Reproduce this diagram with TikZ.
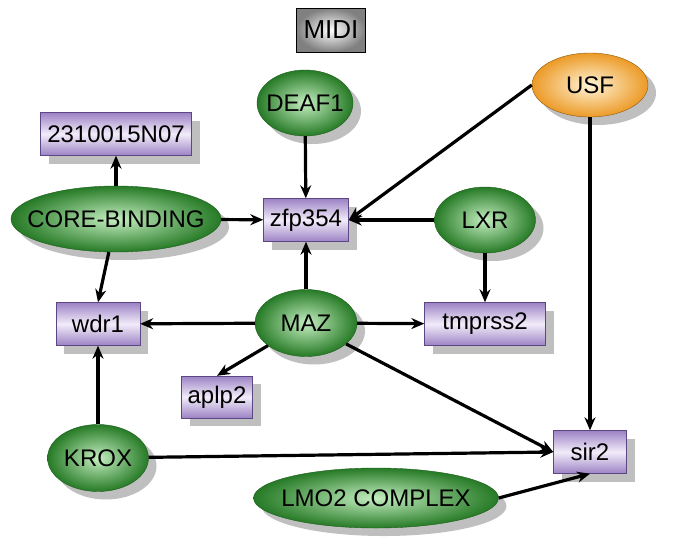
\documentclass[tikz,border=0pt]{standalone}
\usepackage{fontspec}
\setsansfont{Liberation Sans}
\usepackage{xcolor}
\definecolor{geneedge}{HTML}{5B4784}
\definecolor{genedark}{HTML}{9C82C4}
\definecolor{genelight}{HTML}{F2ECFA}
\definecolor{grnedge}{HTML}{1B5E1B}
\definecolor{grnout}{HTML}{267A26}
\definecolor{grnin}{HTML}{C4EEC0}
\definecolor{orgedge}{HTML}{8A5A10}
\definecolor{orgout}{HTML}{EC9A26}
\definecolor{orgin}{HTML}{FFF4D8}
\usetikzlibrary{arrows.meta, shapes.geometric, shadows}

\begin{document}
\begin{tikzpicture}[x=1pt, y=-1pt,
  shade/.style={drop shadow={shadow xshift=8pt, shadow yshift=-8pt,
    fill=black!25, opacity=1}},
  gene/.style={draw=geneedge, top color=genedark, bottom color=genedark,
    middle color=genelight, minimum height=43pt, inner sep=0pt, shade,
    font=\sffamily\fontsize{24}{24}\selectfont},
  factor/.style={ellipse, draw=#1edge, inner color=#1in, outer color=#1out,
    inner sep=0pt, shade, font=\sffamily\fontsize{24}{24}\selectfont,
    execute at begin node={\hbox to 0pt\bgroup\hss},
    execute at end node={\hss\egroup}},
  factor/.default=grn,
  link/.style={-{Stealth[length=13pt, width=11pt]}, line width=3.2pt}
]
  \useasboundingbox (0,0) rectangle (685,546);

  \node[draw=black, inner color=white, outer color=black!50, minimum width=69pt,
    minimum height=44pt, inner sep=0pt, font=\sffamily\fontsize{26}{26}\selectfont]
    (midi) at (331,30) {MIDI};

  % transcription factors
  \node[factor, minimum width=96pt, minimum height=66pt] (deaf1) at (305,103) {DEAF1};
  \node[factor=org, minimum width=116pt, minimum height=64pt] (usf) at (590,85) {USF};
  \node[factor, minimum width=210pt, minimum height=66pt] (cb) at (116,219) {CORE-BINDING};
  \node[factor, minimum width=101pt, minimum height=66pt] (lxr) at (485,220) {LXR};
  \node[factor, minimum width=102pt, minimum height=67pt] (maz) at (306,323) {MAZ};
  \node[factor, minimum width=101pt, minimum height=67pt] (krox) at (98,458) {KROX};
  \node[factor, minimum width=245pt, minimum height=60pt] (lmo2) at (376,498) {LMO2 COMPLEX};

  % target genes
  \node[gene, minimum width=151pt] (n07) at (116,134) {2310015N07};
  \node[gene, minimum width=85pt] (zfp) at (306,220) {zfp354};
  \node[gene, minimum width=84pt] (wdr1) at (98,324) {wdr1};
  \node[gene, minimum width=121pt] (tmprss2) at (485,324) {tmprss2};
  \node[gene, minimum width=71pt, minimum height=42pt] (aplp2) at (217,397) {aplp2};
  \node[gene, minimum width=73pt] (sir2) at (590,452) {sir2};

  \draw[link] (cb) -- (n07);
  \draw[link] (deaf1) -- (zfp);
  \draw[link] (cb) -- (zfp);
  \draw[link] (usf.west) -- (zfp.east);
  \draw[link] (lxr) -- (zfp);
  \draw[link] (maz) -- (zfp);
  \draw[link] (lxr) -- (tmprss2);
  \draw[link] (cb) -- (wdr1.north);
  \draw[link] (maz) -- (wdr1);
  \draw[link] (maz) -- (tmprss2);
  \draw[link] (maz) -- (aplp2.north);
  \draw[link] (maz) -- (sir2.west);
  \draw[link] (krox) -- (wdr1);
  \draw[link] (krox) -- (sir2.west);
  \draw[link] (usf) -- (sir2);
  \draw[link] (lmo2.east) -- (sir2.south);
\end{tikzpicture}
\end{document}
